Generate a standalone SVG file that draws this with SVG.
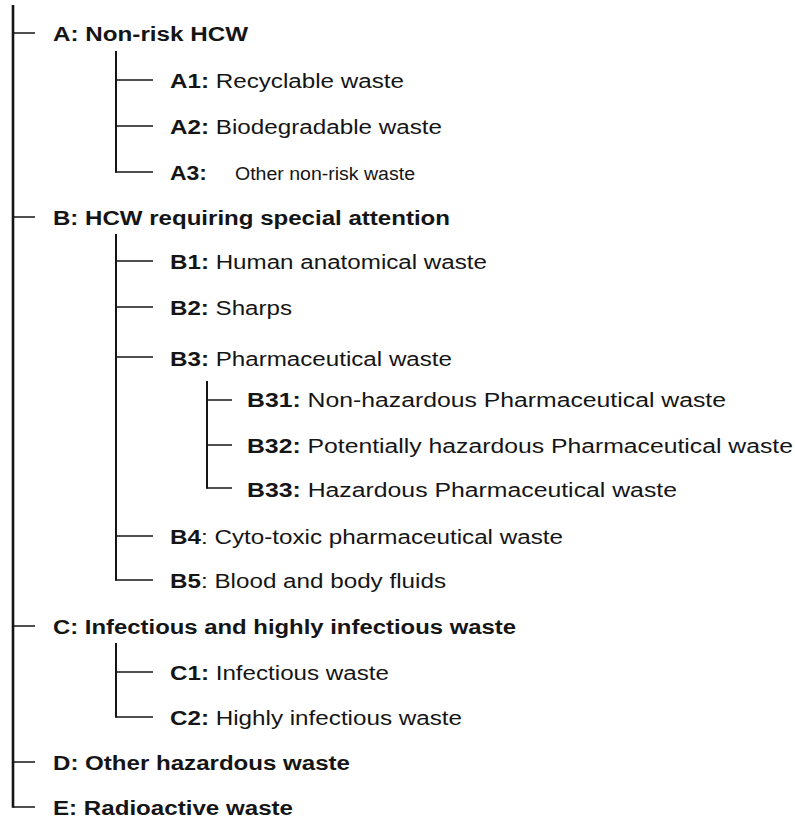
<svg xmlns="http://www.w3.org/2000/svg" width="795" height="818" viewBox="0 0 795 818">
<style>
text{font-family:"Liberation Sans",Arial,sans-serif;font-size:20px;fill:#151515}
.b{font-weight:bold}
.s{font-size:18px}
.v{stroke:#151515;stroke-width:2;fill:none}
.m{stroke:#151515;stroke-width:2.6;fill:none}
.h{stroke:#151515;stroke-width:1.5;fill:none}
</style>
<rect width="795" height="818" fill="#fff"/>
<g id="connectors">
<line class="m" x1="13" y1="5" x2="13" y2="807.7"/>
<line class="h" x1="13" y1="33" x2="35" y2="33"/>
<line class="h" x1="13" y1="217" x2="35" y2="217"/>
<line class="h" x1="13" y1="626" x2="35" y2="626"/>
<line class="h" x1="13" y1="762" x2="35" y2="762"/>
<line class="h" x1="13" y1="807" x2="35" y2="807"/>
<line class="v" x1="116" y1="51" x2="116" y2="172.7"/>
<line class="h" x1="116" y1="80" x2="153" y2="80"/>
<line class="h" x1="116" y1="126" x2="153" y2="126"/>
<line class="h" x1="116" y1="172" x2="153" y2="172"/>
<line class="v" x1="116" y1="234" x2="116" y2="580.7"/>
<line class="h" x1="116" y1="261" x2="153" y2="261"/>
<line class="h" x1="116" y1="307" x2="153" y2="307"/>
<line class="h" x1="116" y1="357" x2="153" y2="357"/>
<line class="h" x1="116" y1="536" x2="153" y2="536"/>
<line class="h" x1="116" y1="580" x2="153" y2="580"/>
<line class="v" x1="207" y1="381" x2="207" y2="488.7"/>
<line class="h" x1="207" y1="400" x2="232" y2="400"/>
<line class="h" x1="207" y1="445" x2="232" y2="445"/>
<line class="h" x1="207" y1="488" x2="232" y2="488"/>
<line class="v" x1="116" y1="643" x2="116" y2="717.7"/>
<line class="h" x1="116" y1="672" x2="153" y2="672"/>
<line class="h" x1="116" y1="717" x2="153" y2="717"/>
</g>
<g id="A"><text class="b" x="53" y="41" textLength="195" lengthAdjust="spacingAndGlyphs">A: Non-risk HCW</text></g>
<g id="A1"><text x="170" y="88" textLength="234" lengthAdjust="spacingAndGlyphs"><tspan class="b">A1:</tspan> Recyclable waste</text></g>
<g id="A2"><text x="170" y="134" textLength="272" lengthAdjust="spacingAndGlyphs"><tspan class="b">A2:</tspan> Biodegradable waste</text></g>
<g id="A3"><text class="b" x="170" y="180" textLength="37" lengthAdjust="spacingAndGlyphs">A3:</text><text class="s" x="235" y="180" textLength="180" lengthAdjust="spacingAndGlyphs">Other non-risk waste</text></g>
<g id="B"><text class="b" x="53" y="225" textLength="397" lengthAdjust="spacingAndGlyphs">B: HCW requiring special attention</text></g>
<g id="B1"><text x="170" y="269" textLength="317" lengthAdjust="spacingAndGlyphs"><tspan class="b">B1:</tspan> Human anatomical waste</text></g>
<g id="B2"><text x="170" y="315" textLength="122" lengthAdjust="spacingAndGlyphs"><tspan class="b">B2:</tspan> Sharps</text></g>
<g id="B3"><text x="170" y="366" textLength="282" lengthAdjust="spacingAndGlyphs"><tspan class="b">B3:</tspan> Pharmaceutical waste</text></g>
<g id="B31"><text x="247" y="407" textLength="479" lengthAdjust="spacingAndGlyphs"><tspan class="b">B31:</tspan> Non-hazardous Pharmaceutical waste</text></g>
<g id="B32"><text x="247" y="453" textLength="546" lengthAdjust="spacingAndGlyphs"><tspan class="b">B32:</tspan> Potentially hazardous Pharmaceutical waste</text></g>
<g id="B33"><text x="247" y="497" textLength="430" lengthAdjust="spacingAndGlyphs"><tspan class="b">B33:</tspan> Hazardous Pharmaceutical waste</text></g>
<g id="B4"><text x="170" y="544" textLength="393" lengthAdjust="spacingAndGlyphs"><tspan class="b">B4</tspan>: Cyto-toxic pharmaceutical waste</text></g>
<g id="B5"><text x="170" y="588" textLength="276" lengthAdjust="spacingAndGlyphs"><tspan class="b">B5</tspan>: Blood and body fluids</text></g>
<g id="C"><text class="b" x="53" y="634" textLength="463" lengthAdjust="spacingAndGlyphs">C: Infectious and highly infectious waste</text></g>
<g id="C1"><text x="170" y="680" textLength="219" lengthAdjust="spacingAndGlyphs"><tspan class="b">C1:</tspan> Infectious waste</text></g>
<g id="C2"><text x="170" y="725" textLength="292" lengthAdjust="spacingAndGlyphs"><tspan class="b">C2:</tspan> Highly infectious waste</text></g>
<g id="D"><text class="b" x="53" y="770" textLength="297" lengthAdjust="spacingAndGlyphs">D: Other hazardous waste</text></g>
<g id="E"><text class="b" x="53" y="815" textLength="240" lengthAdjust="spacingAndGlyphs">E: Radioactive waste</text></g>
</svg>
